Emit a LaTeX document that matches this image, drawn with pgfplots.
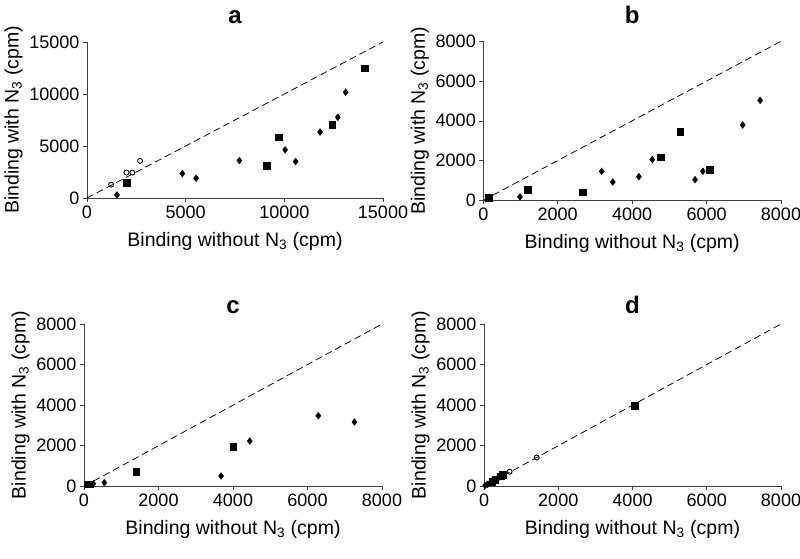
\documentclass[border=0pt]{standalone}
\usepackage{fontspec}
\setmainfont{Liberation Sans}
\usepackage{pgfplots}
\pgfplotsset{compat=1.18}
\pgfplotsset{
  panel/.style={
    scale only axis,
    axis lines=left,
    axis line style={-, black!75},
    tick align=outside,
    major tick length=4pt,
    every tick/.style={black!75, line width=0.6pt},
    ticklabel style={font=\fontsize{18}{20}\selectfont},
    label style={font=\fontsize{19.5}{22}\selectfont},
    xlabel style={yshift=-7pt},
    xmin=0, ymin=0,
    scaled ticks=false,
    /pgf/number format/1000 sep={},
    /pgf/number format/assume math mode=true,
    xlabel={Binding without N\textsubscript{3} (cpm)},
    ylabel={Binding with N\textsubscript{3} (cpm)},
    title style={font=\bfseries\fontsize{24}{28}\selectfont, at={(0.5,1)}, anchor=base},
    clip=false,
  },
  sq/.style={only marks, mark=square*, mark size=3.3pt, black},
  dm/.style={only marks, mark=diamond*, mark size=3.4pt, black},
  ci/.style={only marks, mark=o, mark size=2.5pt, black, line width=0.9pt, mark options={fill=white}},
  diag/.style={black, dashed, dash pattern=on 7pt off 4pt, line width=0.75pt},
}
\begin{document}
\begin{tikzpicture}
\path[use as bounding box] (0,0) rectangle (800pt,558pt);
% panel a
\begin{axis}[panel, at={(87pt,360pt)}, anchor=south west, width=296pt, height=156pt,
  xmax=15000, ymax=15000, xtick={0,5000,10000,15000}, ytick={0,5000,10000,15000},
  title={a}, title style={yshift=13pt}]
\addplot[diag] coordinates {(0,0) (15000,15000)};
\addplot[ci] coordinates {(1220,1290) (2000,2450) (2300,2450) (2690,3570)};
\addplot[sq] coordinates {(2000,1480) (9700,5860) (9120,3120) (12430,7050) (14070,12490)};
\addplot[dm] coordinates {(1520,290) (4830,2350) (5530,1900) (7720,3600) (10040,4630) (10570,3510) (11810,6340) (12710,7760) (13110,10170)};
\end{axis}
% panel b
\begin{axis}[panel, at={(483.3pt,357.7pt)}, anchor=south west, width=297.7pt, height=159pt,
  xmax=8000, ymax=8000, xtick={0,2000,4000,6000,8000}, ytick={0,2000,4000,6000,8000},
  title={b}, title style={yshift=12pt}]
\addplot[diag] coordinates {(0,0) (8000,8000)};
\addplot[sq] coordinates {(150,140) (1190,520) (2670,400) (4770,2160) (5290,3450) (6090,1540)};
\addplot[dm] coordinates {(160,150) (985,170) (3180,1460) (3480,920) (4180,1190) (4540,2050) (5690,1040) (5900,1460) (6970,3790) (7440,5030)};
\end{axis}
% panel c
\begin{axis}[panel, at={(84pt,71.7pt)}, anchor=south west, width=298pt, height=162.3pt,
  xmax=8000, ymax=8000, xtick={0,2000,4000,6000,8000}, ytick={0,2000,4000,6000,8000},
  title={c}, title style={yshift=5pt}]
\addplot[diag] coordinates {(0,0) (8000,8000)};
\addplot[sq] coordinates {(90,110) (160,110) (1400,710) (4000,1940)};
\addplot[dm] coordinates {(250,120) (545,180) (3680,510) (4450,2230) (6290,3480) (7260,3170)};
\end{axis}
% panel d
\begin{axis}[panel, at={(484pt,71.7pt)}, anchor=south west, width=297pt, height=162.3pt,
  xmax=8000, ymax=8000, xtick={0,2000,4000,6000,8000}, ytick={0,2000,4000,6000,8000},
  title={d}, title style={yshift=5pt}]
\addplot[diag] coordinates {(0,0) (8000,8000)};
\addplot[dm] coordinates {(30,40) (90,100) (160,170)};
\addplot[sq] coordinates {(4060,3960) (450,500) (510,580) (220,240) (300,330)};
\addplot[ci] coordinates {(1420,1420) (690,720) (390,410) (260,280)};
\end{axis}
\end{tikzpicture}
\end{document}
